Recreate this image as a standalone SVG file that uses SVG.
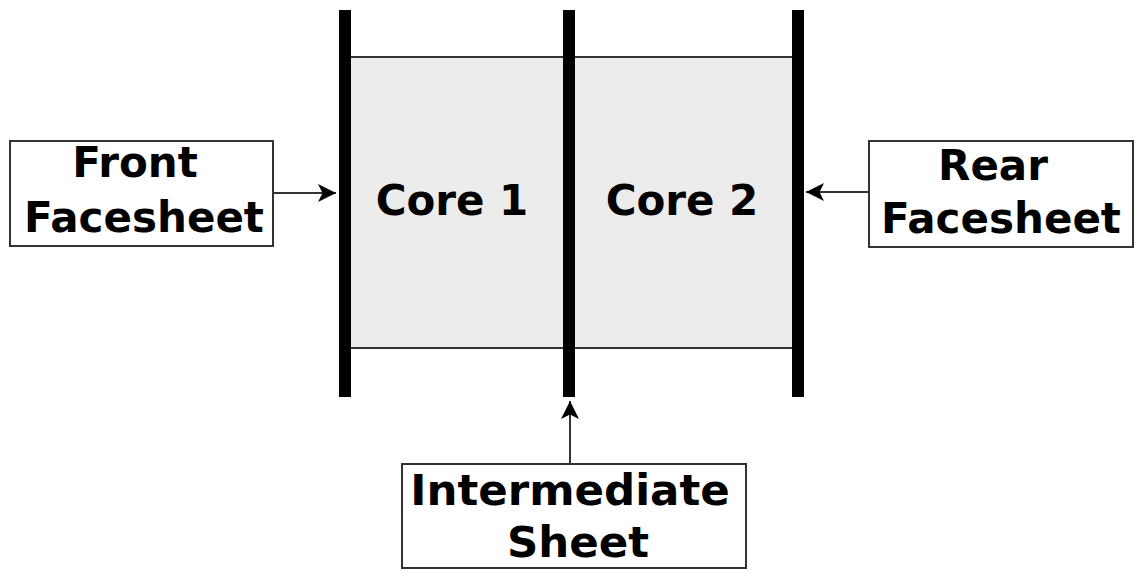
<svg xmlns="http://www.w3.org/2000/svg" width="1136" height="570" viewBox="0 0 1136 570">
  <style>
    .label { font-family: "DejaVu Sans", Verdana, sans-serif; font-weight: bold; font-size: 42px; fill: #000; text-anchor: middle; }
    .wide { font-size: 43.5px; }
    .box { fill: #fff; stroke: #333; stroke-width: 2; }
    .sheet { stroke: #000; stroke-width: 12; }
    .edge { stroke: #333; stroke-width: 2; fill: none; }
  </style>
  <defs>
    <marker id="arrow" viewBox="0 0 10 10" refX="10" refY="5" markerWidth="24" markerHeight="18" markerUnits="userSpaceOnUse" orient="auto">
      <path d="M0,0 L10,5 L0,10 L2.5,5 Z" fill="#000"/>
    </marker>
  </defs>

  <!-- sandwich panel: cores and sheets -->
  <g id="core1">
    <rect x="345" y="57" width="224" height="291" fill="#ececec"/>
    <text class="label" x="452" y="215">Core 1</text>
  </g>
  <g id="core2">
    <rect x="569" y="57" width="229" height="291" fill="#ececec"/>
    <text class="label" x="682" y="215">Core 2</text>
  </g>
  <g id="core-edges">
    <line class="edge" x1="345" y1="57" x2="798" y2="57"/>
    <line class="edge" x1="345" y1="348" x2="798" y2="348"/>
  </g>
  <g id="front-sheet">
    <line class="sheet" x1="345" y1="10" x2="345" y2="397"/>
  </g>
  <g id="intermediate-sheet">
    <line class="sheet" x1="569" y1="10" x2="569" y2="397"/>
  </g>
  <g id="rear-sheet">
    <line class="sheet" x1="798" y1="10" x2="798" y2="397"/>
  </g>

  <!-- labels -->
  <g id="front-label">
    <rect class="box" x="10" y="141" width="263" height="105"/>
    <text class="label" x="135" y="177">Front</text>
    <text class="label" x="144" y="232">Facesheet</text>
  </g>
  <g id="rear-label">
    <rect class="box" x="869" y="141" width="264" height="106"/>
    <text class="label" x="993" y="180">Rear</text>
    <text class="label" x="1001" y="233">Facesheet</text>
  </g>
  <g id="intermediate-label">
    <rect class="box" x="402" y="464" width="344" height="104"/>
    <text class="label wide" x="570" y="505">Intermediate</text>
    <text class="label wide" x="578" y="557">Sheet</text>
  </g>

  <!-- connectors -->
  <g id="connectors">
    <line class="edge" x1="273" y1="193" x2="336" y2="193" marker-end="url(#arrow)"/>
    <line class="edge" x1="869" y1="192" x2="806" y2="192" marker-end="url(#arrow)"/>
    <line class="edge" x1="570" y1="464" x2="570" y2="401" marker-end="url(#arrow)"/>
  </g>
</svg>
